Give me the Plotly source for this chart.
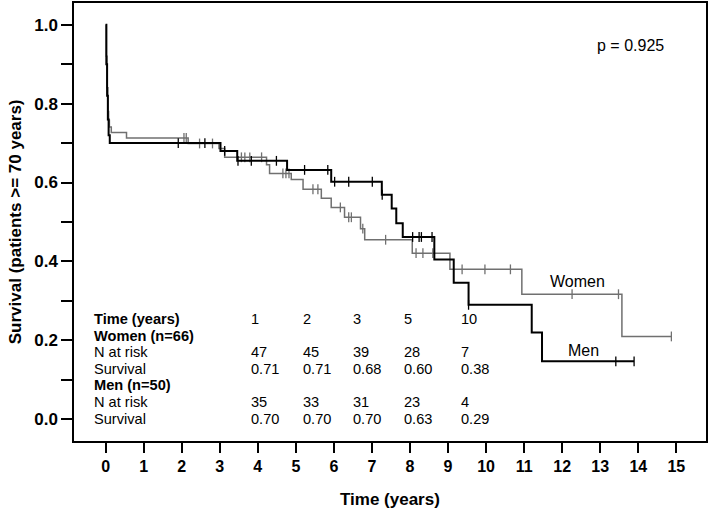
import plotly.graph_objects as go
import bisect

# ---- data -------------------------------------------------------------
women_times = [0, 0.02, 0.04, 0.06, 0.08, 0.10, 0.15, 0.55, 2.17, 2.98, 3.13, 4.23, 4.31,
               4.88, 5.19, 5.67, 5.93, 6.28, 6.70, 6.81, 8.06, 9.05, 10.94, 13.57]
women_surv = [1.0, 0.92, 0.84, 0.78, 0.758, 0.741, 0.727, 0.713, 0.699, 0.686, 0.664, 0.645, 0.623,
              0.608, 0.583, 0.560, 0.537, 0.512, 0.483, 0.455, 0.421, 0.380, 0.317, 0.210]
women_censor = [2.06, 2.12, 2.47, 2.81, 3.57, 3.66, 3.79, 4.10, 4.66, 4.74, 4.82, 5.45, 5.58,
                6.17, 6.39, 6.46, 6.76, 7.36, 8.16, 8.34, 8.60, 9.37, 9.97, 10.64, 12.26,
                13.48, 14.87]

men_times = [0, 0.02, 0.04, 0.06, 0.08, 0.11, 3.02, 3.46, 4.77, 5.93, 7.26, 7.52, 7.64, 7.81,
             8.64, 9.15, 9.54, 11.20, 11.47]
men_surv = [1.0, 0.90, 0.82, 0.76, 0.72, 0.70, 0.68, 0.655, 0.632, 0.602, 0.569, 0.534, 0.497,
            0.462, 0.405, 0.346, 0.290, 0.220, 0.147]
men_censor = [1.91, 2.61, 3.13, 3.48, 3.83, 4.49, 5.23, 5.84, 6.02, 6.39, 7.01, 7.27, 8.07,
              8.24, 8.30, 8.58, 9.54, 13.41, 13.89]

table_labels = ["Time (years)", "Women (n=66)", "N at risk", "Survival", "Men (n=50)",
                "N at risk", "Survival"]
table_bold = [True, True, False, False, True, False, False]
table_cols = [["1", "2", "3", "5", "10"],
              [],
              ["47", "45", "39", "28", "7"],
              ["0.71", "0.71", "0.68", "0.60", "0.38"],
              [],
              ["35", "33", "31", "23", "4"],
              ["0.70", "0.70", "0.70", "0.63", "0.29"]]

x_ticks = list(range(0, 16))
y_ticks = [round(i * 0.1, 1) for i in range(11)]
y_ticktext = [f"{v:.1f}" if i % 2 == 0 else "" for i, v in enumerate(y_ticks)]

p_text = "p = 0.925"

# ---- helpers -------------------------------------------------------------
def surv_at(t, times, surv):
    i = bisect.bisect_right(times, t) - 1
    return surv[max(i, 0)]

GRAY = "#707070"
BLACK = "#000000"
FONT = "Liberation Sans, Arial, Helvetica, sans-serif"

fig = go.Figure()

for times, surv, cens, color, width in [
    (women_times, women_surv, women_censor, GRAY, 1.5),
    (men_times, men_surv, men_censor, BLACK, 2.0),
]:
    end = max(cens[-1], times[-1])
    fig.add_trace(go.Scatter(
        x=times + [end], y=surv + [surv[-1]], mode="lines",
        line=dict(color=color, width=width, shape="hv"), showlegend=False,
        hoverinfo="skip"))
    fig.add_trace(go.Scatter(
        x=cens, y=[surv_at(c, times, surv) for c in cens], mode="markers",
        marker=dict(symbol="line-ns", size=7, line=dict(color=color, width=1.3)),
        showlegend=False, hoverinfo="skip"))

annotations = []
col_x = [3.76, 5.13, 6.46, 7.80, 9.28]
row_y = [0.254, 0.212, 0.170, 0.128, 0.086, 0.044, 0.002]
for r, (lab, bold, vals) in enumerate(zip(table_labels, table_bold, table_cols)):
    annotations.append(dict(
        x=-0.36, y=row_y[r], xref="x", yref="y", text=f"<b>{lab}</b>" if bold else lab,
        showarrow=False, xanchor="left", yanchor="middle",
        font=dict(family=FONT, size=14.6, color="black")))
    for c, v in enumerate(vals):
        annotations.append(dict(
            x=col_x[c], y=row_y[r], xref="x", yref="y", text=v, showarrow=False,
            xanchor="left", yanchor="middle", font=dict(family=FONT, size=14.6, color="black")))

annotations += [
    dict(x=13.79, y=0.948, xref="x", yref="y", text=p_text, showarrow=False,
         font=dict(family=FONT, size=16, color="black")),
    dict(x=12.41, y=0.348, xref="x", yref="y", text="Women", showarrow=False,
         font=dict(family=FONT, size=16, color="black")),
    dict(x=12.57, y=0.174, xref="x", yref="y", text="Men", showarrow=False,
         font=dict(family=FONT, size=16, color="black")),
    dict(x=-0.093, y=0.5, xref="paper", yref="paper", text="<b>Survival (patients >= 70 years)</b>",
         textangle=-90, showarrow=False, xanchor="center", yanchor="middle",
         font=dict(family=FONT, size=17, color="black")),
    dict(x=0.5, y=-0.134, xref="paper", yref="paper", text="<b>Time (years)</b>",
         showarrow=False, xanchor="center", yanchor="middle",
         font=dict(family=FONT, size=17, color="black")),
]

fig.update_layout(
    width=709, height=513,
    margin=dict(l=74, r=2, t=1, b=72),
    plot_bgcolor="white", paper_bgcolor="white",
    annotations=annotations,
    font=dict(family=FONT, color="black"),
)
fig.update_xaxes(
    range=[-0.83, 15.78], tickvals=x_ticks, ticks="outside", ticklen=10, tickwidth=1.5,
    tickcolor="black", showgrid=False, zeroline=False, showline=True, linecolor="black",
    linewidth=1.5, mirror=True, tickfont=dict(family=FONT, size=16, color="black", weight="bold"),
)
fig.update_yaxes(
    range=[-0.055, 1.055], tickvals=y_ticks, ticktext=y_ticktext, ticks="outside", ticklen=11,
    tickwidth=1.5, tickcolor="black", showgrid=False, zeroline=False, showline=True,
    linecolor="black", linewidth=1.5, mirror=True,
    tickfont=dict(family=FONT, size=17, color="black", weight="bold"),
)

fig.write_html("out.html", config={"displayModeBar": False},
               post_script="document.body.style.margin='0';document.body.style.overflow='hidden';")
